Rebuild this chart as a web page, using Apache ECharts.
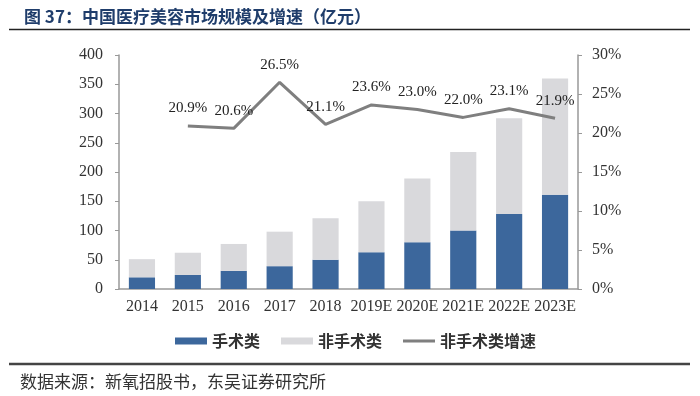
<!DOCTYPE html>
<html>
<head>
<meta charset="utf-8">
<script src="https://cdn.jsdelivr.net/npm/echarts@6/dist/echarts.min.js"></script>
<style>
  html, body { margin: 0; padding: 0; background: #fff; }
  #main { width: 700px; height: 396px; }
</style>
</head>
<body>
<div id="main"></div>
<script>
var years = ['2014', '2015', '2016', '2017', '2018', '2019E', '2020E', '2021E', '2022E', '2023E'];
var surgical = [20, 24, 31, 39, 50, 63, 80, 100, 128, 161];
var nonSurgical = [31, 38, 46, 59, 71, 87, 109, 134, 164, 199];
var nonSurgicalGrowth = [null, 20.9, 20.6, 26.5, 21.1, 23.6, 23.0, 22.0, 23.1, 21.9];

var serif = '"Liberation Serif", "Noto Sans CJK SC", serif';
var cjk = '"Noto Sans CJK SC", sans-serif';

var chartDom = document.getElementById('main');
var myChart = echarts.init(chartDom);
var option;

option = {
  animation: false,
  title: {
    text: '图 37：中国医疗美容市场规模及增速（亿元）',
    left: 19,
    top: 3,
    textStyle: { fontFamily: cjk, fontSize: 17, fontWeight: 'bold', color: '#1f3d6b' }
  },
  graphic: [
    { type: 'line', shape: { x1: 9, y1: 29.5, x2: 690, y2: 29.5 }, style: { stroke: '#222', lineWidth: 1.5 } },
    { type: 'line', shape: { x1: 9, y1: 364, x2: 690, y2: 364 }, style: { stroke: '#444', lineWidth: 2.5 } },
    {
      type: 'text', left: 20, top: 373,
      style: { text: '数据来源：新氧招股书，东吴证券研究所', font: '17px "Noto Sans CJK SC"', fill: '#333' }
    }
  ],
  legend: {
    top: 328,
    left: 170,
    itemWidth: 32,
    itemHeight: 7,
    itemGap: 21,
    textStyle: { fontFamily: cjk, fontSize: 16, fontWeight: 'bold', color: '#333' },
    data: [
      { name: '手术类', icon: 'rect' },
      { name: '非手术类', icon: 'rect' },
      { name: '非手术类增速', icon: 'path://M0,0 L32,0 L32,3 L0,3 Z' }
    ]
  },
  grid: { left: 119, right: 122, top: 55, bottom: 107 },
  xAxis: {
    type: 'category',
    data: years,
    axisLine: { lineStyle: { color: '#999', width: 1.5 } },
    axisTick: { show: false },
    axisLabel: { fontFamily: serif, fontSize: 16, color: '#333', interval: 0, margin: 10 }
  },
  yAxis: [
    {
      type: 'value',
      min: 0, max: 400, interval: 50,
      axisLine: { show: true, lineStyle: { color: '#999', width: 1.5 } },
      axisTick: { show: true, length: 4, lineStyle: { color: '#999' } },
      splitLine: { show: false },
      axisLabel: { fontFamily: serif, fontSize: 16, color: '#333', margin: 16 }
    },
    {
      type: 'value',
      min: 0, max: 30, interval: 5,
      axisLine: { show: true, lineStyle: { color: '#999', width: 1.5 } },
      axisTick: { show: true, length: 4, lineStyle: { color: '#999' } },
      splitLine: { show: false },
      axisLabel: { fontFamily: serif, fontSize: 16, color: '#333', margin: 14, formatter: '{value}%' }
    }
  ],
  series: [
    {
      name: '手术类',
      type: 'bar',
      stack: 'total',
      barWidth: '57%',
      itemStyle: { color: '#3c679c' },
      data: surgical
    },
    {
      name: '非手术类',
      type: 'bar',
      stack: 'total',
      barWidth: '57%',
      itemStyle: { color: '#d9d9dc' },
      data: nonSurgical
    },
    {
      name: '非手术类增速',
      type: 'line',
      yAxisIndex: 1,
      symbol: 'circle',
      symbolSize: 0.1,
      showSymbol: true,
      lineStyle: { color: '#7f7f7f', width: 3 },
      itemStyle: { color: '#7f7f7f' },
      label: {
        show: true,
        position: 'top',
        distance: 10,
        fontFamily: serif,
        fontSize: 15,
        color: '#222',
        formatter: function (p) { return p.value.toFixed(1) + '%'; }
      },
      data: nonSurgicalGrowth
    }
  ]
};

option && myChart.setOption(option);
</script>
</body>
</html>
